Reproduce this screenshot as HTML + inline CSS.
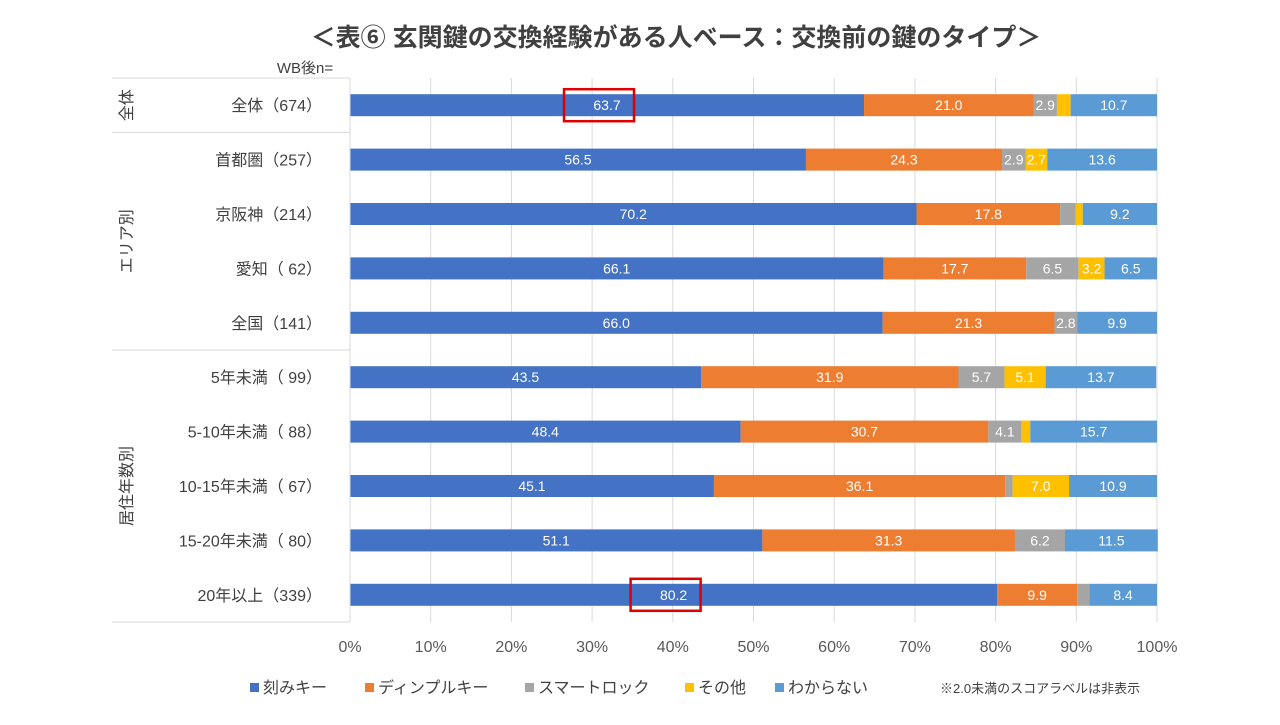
<!DOCTYPE html>
<html><head><meta charset="utf-8"><style>
body{margin:0;background:#fff;font-family:"Liberation Sans","Noto Sans CJK JP",sans-serif;}
svg text{font-family:"Liberation Sans","Noto Sans CJK JP",sans-serif;}
</style></head><body>
<svg id="chart" width="1280" height="720" viewBox="0 0 1280 720" xmlns="http://www.w3.org/2000/svg">
<text x="676" y="46" text-anchor="middle" font-size="25" font-weight="bold" fill="#404040">＜表⑥ 玄関鍵の交換経験がある人ベース：交換前の鍵のタイプ＞</text>
<text x="305" y="73" text-anchor="middle" font-size="15" fill="#404040">WB後n=</text>
<g id="grid"></g><g id="bars"></g><g id="labels"></g><g id="axis"></g><g id="legend"></g>
</svg>
<script>
const categories=["全体（674）","首都圏（257）","京阪神（214）","愛知（ 62）","全国（141）","5年未満（ 99）","5-10年未満（ 88）","10-15年未満（ 67）","15-20年未満（ 80）","20年以上（339）"];
const seriesNames=["刻みキー","ディンプルキー","スマートロック","その他","わからない"];
const kizami=[63.7,56.5,70.2,66.1,66.0,43.5,48.4,45.1,51.1,80.2];
const dimple=[21.0,24.3,17.8,17.7,21.3,31.9,30.7,36.1,31.3,9.9];
const smart=[2.9,2.9,1.9,6.5,2.8,5.7,4.1,0.9,6.2,1.5];
const other=[1.7,2.7,0.9,3.2,0.0,5.1,1.1,7.0,0.0,0.0];
const unknown=[10.7,13.6,9.2,6.5,9.9,13.7,15.7,10.9,11.5,8.4];
const ticks=["0%","10%","20%","30%","40%","50%","60%","70%","80%","90%","100%"];
const groups=[{name:"全体",from:0,to:0},{name:"エリア別",from:1,to:4},{name:"居住年数別",from:5,to:9}];
const colors=["#4472C4","#ED7D31","#A5A5A5","#FFC000","#5B9BD5"];
const series=[kizami,dimple,smart,other,unknown];
const NS="http://www.w3.org/2000/svg";
const x0=350,x1=1157,plotTop=78,plotBottom=622;
const rowH=(plotBottom-plotTop)/categories.length;
const xs=v=>x0+(x1-x0)*v/100;
const yc=i=>plotTop+rowH*(i+0.5);
function mk(t,a,p){const e=document.createElementNS(NS,t);for(const k in a)e.setAttribute(k,a[k]);p.appendChild(e);return e;}
const G=id=>document.getElementById(id);
ticks.forEach((t,i)=>{
  const x=xs(i*10);
  if(i>0){const l=mk("line",{x1:x,x2:x,y1:plotTop,y2:plotBottom,stroke:"#D9D9D9","stroke-width":1},G("grid"));
  
  }
  const tx=mk("text",{x:x,y:652,"text-anchor":"middle","font-size":16,fill:"#595959"},G("axis"));tx.textContent=t;
  
  
});
const ax=mk("line",{x1:x0,x2:x0,y1:plotTop,y2:plotBottom,stroke:"#D9D9D9"},G("axis"));


[plotTop,plotBottom].concat(groups.slice(1).map(g=>plotTop+rowH*g.from)).forEach(y=>{
  const l=mk("line",{x1:112,x2:x0,y1:y,y2:y,stroke:"#D9D9D9"},G("axis"));
  
  
});
groups.forEach(g=>{
  const cy=(yc(g.from)+yc(g.to))/2;
  const t=mk("text",{x:0,y:0,"text-anchor":"middle","font-size":16,fill:"#404040",transform:`translate(132,${cy}) rotate(-90)`},G("axis"));
  t.textContent=g.name;
  
  
});
categories.forEach((c,i)=>{
  const t=mk("text",{x:322,y:yc(i)+6,"text-anchor":"end","font-size":16,fill:"#404040"},G("axis"));
  t.textContent=c;
  
  
  let cum=0;
  series.forEach((s,j)=>{
    const v=s[i];
    if(v>0){
      const r=mk("rect",{x:xs(cum),y:yc(i)-11,width:xs(cum+v)-xs(cum),height:22,fill:colors[j]},G("bars"));
      
      
      if(v>=2.0){
        const lt=mk("text",{x:xs(cum+v/2),y:yc(i)+5,"text-anchor":"middle","font-size":14,fill:"#fff"},G("labels"));
        lt.textContent=v.toFixed(1);
        
        
      }
    }
    cum+=v;
  });
});
[0,9].forEach(i=>{
  const cx=xs(kizami[i]/2)-8;
  const b=mk("rect",{x:cx-35,y:yc(i)-16,width:70,height:32,fill:"none",stroke:"#E00000","stroke-width":2.5},G("labels"));
  
  
});
let lx=250;
const lw=[115,160,160,90,130];
seriesNames.forEach((n,j)=>{
  const r=mk("rect",{x:lx,y:683,width:9,height:9,fill:colors[j]},G("legend"));
  
  
  const t=mk("text",{x:lx+13,y:693,"font-size":16,fill:"#404040"},G("legend"));
  t.textContent=n;
  
  
  lx+=lw[j];
});
const note=mk("text",{x:940,y:693,"font-size":13,fill:"#404040"},G("legend"));
note.textContent="※2.0未満のスコアラベルは非表示";


</script>
</body></html>
